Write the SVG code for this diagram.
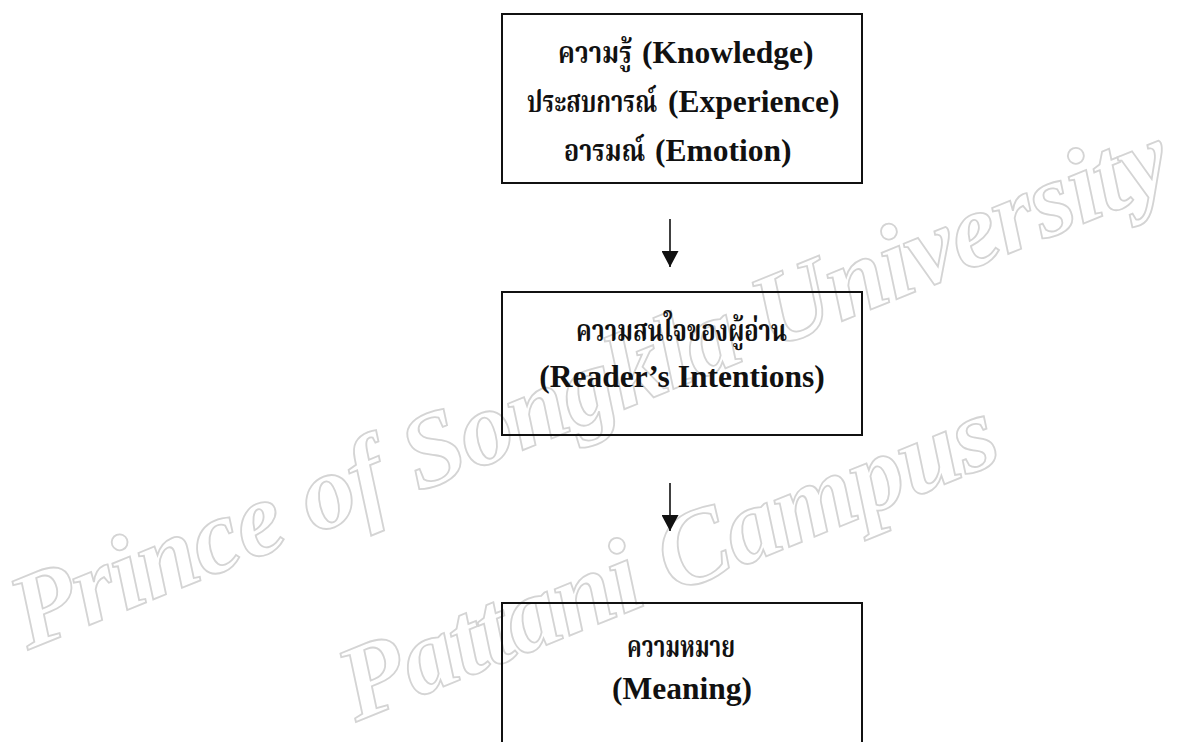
<svg xmlns="http://www.w3.org/2000/svg" width="1194" height="742" viewBox="0 0 1194 742">
  <defs>
    <style>
      .box { fill: none; stroke: #111; stroke-width: 2; }
      .lat { font-family: "Liberation Serif", "Times New Roman", serif; font-weight: bold; font-size: 31.5px; fill: #111; }
      .thai { font-family: "Noto Serif Thai", "Noto Sans Thai", "TH Sarabun New", "Garuda", "Loma", "Norasi", "DejaVu Sans", sans-serif; font-weight: bold; font-size: 30px; fill: #111; }
      .wm { font-family: "Liberation Serif", "DejaVu Serif", serif; font-style: italic; font-weight: bold; font-size: 106px; fill: #ffffff; stroke: #d4d4d4; stroke-width: 1.8; }
      .conn { stroke: #111; stroke-width: 1.6; fill: none; }
    </style>
    <marker id="arr" viewBox="0 0 16 17" refX="16" refY="8.5" markerWidth="16" markerHeight="17" markerUnits="userSpaceOnUse" orient="auto">
      <path d="M0,0 L16,8.5 L0,17 Z" fill="#111"/>
    </marker>
  </defs>
  <rect x="0" y="0" width="1194" height="742" fill="#ffffff"/>

  <g id="watermark">
    <text class="wm" x="28" y="650" transform="rotate(-22 28 650)" textLength="1240" lengthAdjust="spacing">Prince of Songkla University</text>
    <text class="wm" x="356" y="722" transform="rotate(-22 356 722)" textLength="700" lengthAdjust="spacing">Pattani Campus</text>
  </g>

  <g id="node-knowledge">
    <rect class="box" x="502" y="14" width="360" height="169"/>
    <text class="lat" y="63"><tspan class="thai" x="558" textLength="74" lengthAdjust="spacingAndGlyphs">ความรู้</tspan><tspan x="642">(Knowledge)</tspan></text>
    <text class="lat" y="112"><tspan class="thai" x="527" textLength="130" lengthAdjust="spacingAndGlyphs">ประสบการณ์</tspan><tspan x="668">(Experience)</tspan></text>
    <text class="lat" y="161"><tspan class="thai" x="564" textLength="81" lengthAdjust="spacingAndGlyphs">อารมณ์</tspan><tspan x="655">(Emotion)</tspan></text>
  </g>

  <g id="node-intentions">
    <rect class="box" x="502" y="292" width="360" height="143"/>
    <text class="thai" x="576" y="341" textLength="211" lengthAdjust="spacingAndGlyphs">ความสนใจของผู้อ่าน</text>
    <text class="lat" x="682" y="387" text-anchor="middle">(Reader’s Intentions)</text>
  </g>

  <g id="node-meaning">
    <rect class="box" x="502" y="603" width="360" height="160"/>
    <text class="thai" x="627" y="657" textLength="108" lengthAdjust="spacingAndGlyphs">ความหมาย</text>
    <text class="lat" x="682" y="699" text-anchor="middle">(Meaning)</text>
  </g>

  <g id="connectors">
    <line class="conn" x1="670" y1="219" x2="670" y2="267" marker-end="url(#arr)"/>
    <line class="conn" x1="670" y1="483" x2="670" y2="531" marker-end="url(#arr)"/>
  </g>
</svg>
